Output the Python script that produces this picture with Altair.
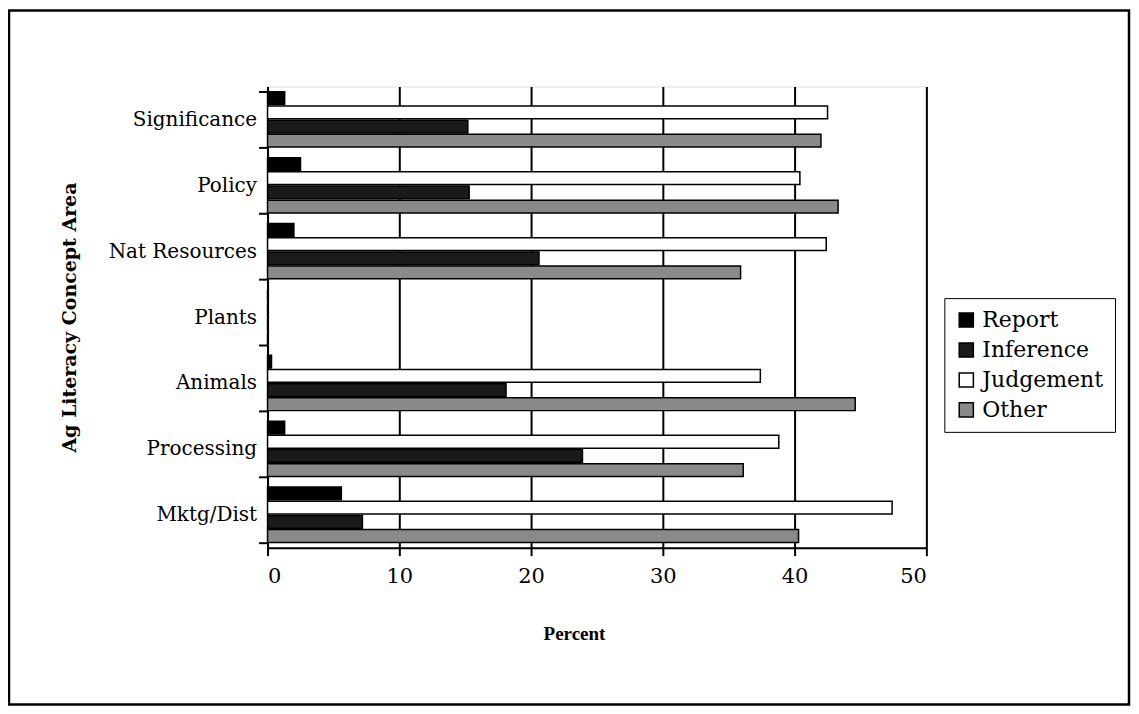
import altair as alt
import pandas as pd

categories = ["Mktg/Dist", "Processing", "Animals", "Plants", "Nat Resources", "Policy", "Significance"]
series = ["Report", "Inference", "Judgement", "Other"]
report = [5.6, 1.3, 0.3, 0.0, 2.0, 2.5, 1.3]
inference = [7.2, 23.9, 18.1, 0.0, 20.6, 15.3, 15.2]
judgement = [47.4, 38.8, 37.4, 0.0, 42.4, 40.4, 42.5]
other = [40.3, 36.1, 44.6, 0.0, 35.9, 43.3, 42.0]
x_ticks = [0, 10, 20, 30, 40, 50]

colors = ["#000000", "#1a1a1a", "#ffffff", "#8a8a8a"]
visual_order = ["Report", "Judgement", "Inference", "Other"]

rows = []
for i, c in enumerate(categories):
    for s, vals in zip(series, [report, inference, judgement, other]):
        rows.append({"area": c, "series": s, "pct": vals[i]})
df = pd.DataFrame(rows)

FONT = "DejaVu Serif"
TFONT = "Liberation Serif"

bars = alt.Chart(df).mark_bar(stroke="black", strokeWidth=1.5).encode(
    x=alt.X("pct:Q",
            scale=alt.Scale(domain=[0, 50], nice=False),
            axis=alt.Axis(values=x_ticks, title="Percent", grid=True,
                          gridColor="black", gridWidth=2, tickColor="black",
                          tickSize=8, tickWidth=2, domainColor="black", domainWidth=2,
                          labelFont=FONT, labelFontSize=21, labelColor="black",
                          labelPadding=10, titleFont=TFONT, titleFontSize=19,
                          titleFontWeight="bold", titleColor="black",
                          titleX=307, titleY=86, titleBaseline="middle")),
    y=alt.Y("area:N", sort=list(reversed(categories)),
            scale=alt.Scale(paddingInner=0.16, paddingOuter=0.08),
            axis=alt.Axis(title="Ag Literacy Concept Area", tickBand="extent",
                          tickColor="black", tickSize=9, tickWidth=2,
                          domainColor="black", domainWidth=2,
                          labelFont=FONT, labelFontSize=20, labelColor="black",
                          labelPadding=2, titleFont=FONT, titleFontSize=19,
                          titleFontWeight="bold", titleColor="black",
                          titleAngle=-90, titleX=-198, titleY=231,
                          titleBaseline="middle")),
    yOffset=alt.YOffset("series:N", sort=visual_order,
                        scale=alt.Scale(paddingInner=0.1)),
    color=alt.Color("series:N",
                    scale=alt.Scale(domain=series, range=colors),
                    legend=alt.Legend(title=None, orient="none", legendX=678, legendY=212,
                                      strokeColor="black", padding=11,
                                      labelFont=FONT, labelFontSize=22, labelColor="black",
                                      symbolType="square", symbolSize=200,
                                      symbolStrokeColor="black", symbolStrokeWidth=1.5,
                                      rowPadding=8, labelOffset=5)),
)

frame = alt.Chart(pd.DataFrame({"a": [0]})).mark_rect(
    fill=None, stroke="black", strokeWidth=2.5
).encode(x=alt.value(-259), x2=alt.value(863), y=alt.value(-76), y2=alt.value(619))

chart = alt.layer(bars, frame).properties(
    width=660, height=462,
    autosize=alt.AutoSizeParams(type="none"),
    padding={"left": 260, "top": 78, "right": 205, "bottom": 160},
).configure_view(stroke="black", strokeWidth=2).configure(background="white")

chart.save("out.html", embed_options={"renderer": "svg", "actions": False})
